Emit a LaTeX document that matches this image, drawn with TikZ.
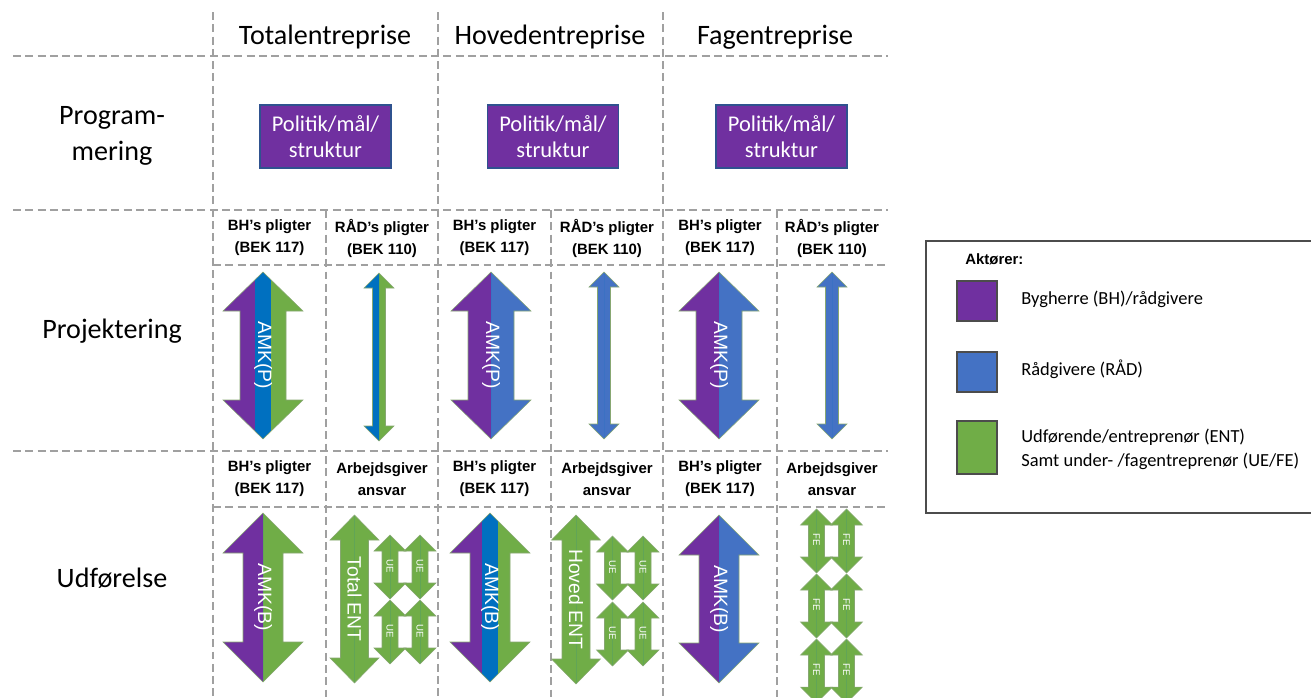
\documentclass[tikz,border=0pt]{standalone}
\usepackage{fontspec}
\setmainfont{Carlito}
\newfontfamily\arialfont{Liberation Sans}
\usetikzlibrary{positioning}
\definecolor{BHPurple}{RGB}{112,48,160}
\definecolor{RADBlue}{RGB}{68,114,196}
\definecolor{StripeBlue}{RGB}{0,112,192}
\definecolor{ENTGreen}{RGB}{112,173,71}
\definecolor{GridGray}{RGB}{160,160,160}
\definecolor{EdgeBlue}{RGB}{47,82,143}
\definecolor{EdgeGreen}{RGB}{84,130,53}

% outline of a double arrow: cx, ytop, ybot, head length, half head, half shaft
\newcommand{\dblshape}[6]{(#1,#2) -- ({#1+#5},{#2+#4}) -- ({#1+#6},{#2+#4}) -- ({#1+#6},{#3-#4}) -- ({#1+#5},{#3-#4}) -- (#1,#3) -- ({#1-#5},{#3-#4}) -- ({#1-#6},{#3-#4}) -- ({#1-#6},{#2+#4}) -- ({#1-#5},{#2+#4}) -- cycle}
% filled double arrow: ... left colour, right colour, half stripe
\newcommand{\amkarrow}[9]{%
  \begin{scope}
    \clip \dblshape{#1}{#2}{#3}{#4}{#5}{#6};
    \fill[#7] ({#1-#5},#2) rectangle (#1,#3);
    \fill[#8] (#1,#2) rectangle ({#1+#5},#3);
    \fill[StripeBlue] ({#1-#9},#2) rectangle ({#1+#9},#3);
  \end{scope}
  \draw[arrowedge] \dblshape{#1}{#2}{#3}{#4}{#5}{#6};
}

\begin{document}
\begin{tikzpicture}[
    x=0.02cm, y=-0.02cm,
    gridline/.style={draw=GridGray, dash pattern=on 4.5pt off 2.5pt, line width=0.8pt},
    colhead/.style={font=\fontsize{16}{19}\selectfont, align=center},
    rowhead/.style={font=\fontsize{16}{20.5}\selectfont, align=center},
    goalbox/.style={draw=EdgeBlue, line width=0.6pt, fill=BHPurple, text=white, minimum width=2.62cm, minimum height=1.26cm, align=center, font=\fontsize{12.8}{15}\selectfont, inner sep=0pt},
    duty/.style={font=\arialfont\bfseries\fontsize{8.5}{12.5}\selectfont, align=center, inner sep=0pt},
    arrowedge/.style={draw=EdgeGreen!70, line width=0.3pt},
    amk/.style={text=white, rotate=-90, font=\arialfont\fontsize{11}{13}\selectfont, inner sep=0pt},
    uetext/.style={text=white, rotate=-90, font=\arialfont\fontsize{5.5}{6}\selectfont, inner sep=0pt},
    keybox/.style={draw=black!70, line width=0.6pt},
    keytext/.style={font=\fontsize{10.5}{13.7}\selectfont, align=left, anchor=west, inner sep=0pt}
]
\useasboundingbox (0,0) rectangle (1311,697);

% Grid
\draw[gridline] (13,56) -- (888,56);
\draw[gridline] (13,210) -- (888,210);
\draw[gridline] (213,265) -- (888,265);
\draw[gridline] (13,451) -- (888,451);
\draw[gridline] (213,507) -- (888,507);
\foreach \gx in {213,438,663}
  \draw[gridline] (\gx,12) -- (\gx,697);
\foreach \gx in {326,551,777}
  \draw[gridline] (\gx,210) -- (\gx,697);

% Column and row heads
\node[colhead] (total) at (325,37) {Totalentreprise};
\node[colhead] (hoved) at (550,37) {Hovedentreprise};
\node[colhead] (fag) at (775,37) {Fagentreprise};
\node[rowhead] (prog) at (112,136) {Program-\\mering};
\node[rowhead] (proj) at (112,331) {Projektering};
\node[rowhead] (udf) at (112,578) {Udførelse};

% Programmering
\node[goalbox] (goalT) at (325.5,136.5) {Politik/mål/\\struktur};
\node[goalbox] (goalH) at (553,136.5) {Politik/mål/\\struktur};
\node[goalbox] (goalF) at (781.5,136.5) {Politik/mål/\\struktur};

% Duty heads
\foreach \cx/\nm in {269.5/T,494.5/H,720/F} {
  \node[duty] (bhP\nm) at (\cx,238) {BH’s pligter\\(BEK 117)};
  \node[duty] (bhU\nm) at (\cx,479) {BH’s pligter\\(BEK 117)};
}
\foreach \cx/\nm in {382/T,607/H,832/F} {
  \node[duty] (radP\nm) at (\cx,238) {RÅD’s pligter\\(BEK 110)};
  \node[duty] (agU\nm) at (\cx,479) {Arbejdsgiver\\ansvar};
}

% Projektering
\amkarrow{263}{272}{439}{39}{40}{23}{BHPurple}{ENTGreen}{8}
\amkarrow{491}{272}{439}{39}{40}{23}{BHPurple}{RADBlue}{0}
\amkarrow{719}{272}{439}{39}{40}{23}{BHPurple}{RADBlue}{0}
\amkarrow{379}{273}{441}{15}{15}{6.5}{StripeBlue}{ENTGreen}{0}
\amkarrow{604}{272}{439}{15}{15}{6.5}{RADBlue}{RADBlue}{0}
\amkarrow{832}{272}{439}{15}{15}{6.5}{RADBlue}{RADBlue}{0}
\node[amk] (amkPT) at (263,355) {AMK(P)};
\node[amk] (amkPH) at (491,355) {AMK(P)};
\node[amk] (amkPF) at (719,355) {AMK(P)};

% Udførelse
\amkarrow{263}{513}{682}{40}{40}{20}{BHPurple}{ENTGreen}{0}
\amkarrow{490}{513}{682}{40}{40}{20}{BHPurple}{ENTGreen}{8}
\amkarrow{719}{515}{683}{40}{40}{20}{BHPurple}{RADBlue}{0}
\node[amk] (amkBT) at (263,597) {AMK(B)};
\node[amk] (amkBH) at (490,597) {AMK(B)};
\node[amk] (amkBF) at (719,599) {AMK(B)};

\amkarrow{354.5}{515}{683}{25}{24.5}{14}{ENTGreen}{ENTGreen}{0}
\amkarrow{576}{515}{684}{25}{24.5}{14}{ENTGreen}{ENTGreen}{0}
\node[amk] (entT) at (354.5,599) {Total ENT};
\node[amk] (entH) at (576,599) {Hoved ENT};

% UE and FE
\foreach \cx/\yt in {390/535,420/535,390/600,420/600,612.5/536,643/536,612.5/602,643/602} {
  \amkarrow{\cx}{\yt}{\yt+64}{16}{16}{8}{ENTGreen}{ENTGreen}{0}
  \node[uetext] at (\cx,\yt+31) {UE};
}
\foreach \cx/\yt in {816.5/509,846.5/509,816.5/574,846.5/574,816.5/639,846.5/639} {
  \amkarrow{\cx}{\yt}{\yt+64}{16}{16}{8}{ENTGreen}{ENTGreen}{0}
  \node[uetext] at (\cx,\yt+31) {FE};
}

% Legend
\draw[keybox] (926,241) rectangle (1340,513);
\node[duty, anchor=west] (aktor) at (965,259) {Aktører:};
\draw[keybox, fill=BHPurple] (957,281) rectangle (997,321);
\draw[keybox, fill=RADBlue] (957,352) rectangle (997,392);
\draw[keybox, fill=ENTGreen] (957,421) rectangle (997,474);
\node[keytext] (keyBH) at (1021,299) {Bygherre (BH)/rådgivere};
\node[keytext] (keyRAD) at (1021,369) {Rådgivere (RÅD)};
\node[keytext] (keyENT) at (1021,449) {Udførende/entreprenør (ENT)\\Samt under- /fagentreprenør (UE/FE)};
\end{tikzpicture}
\end{document}
